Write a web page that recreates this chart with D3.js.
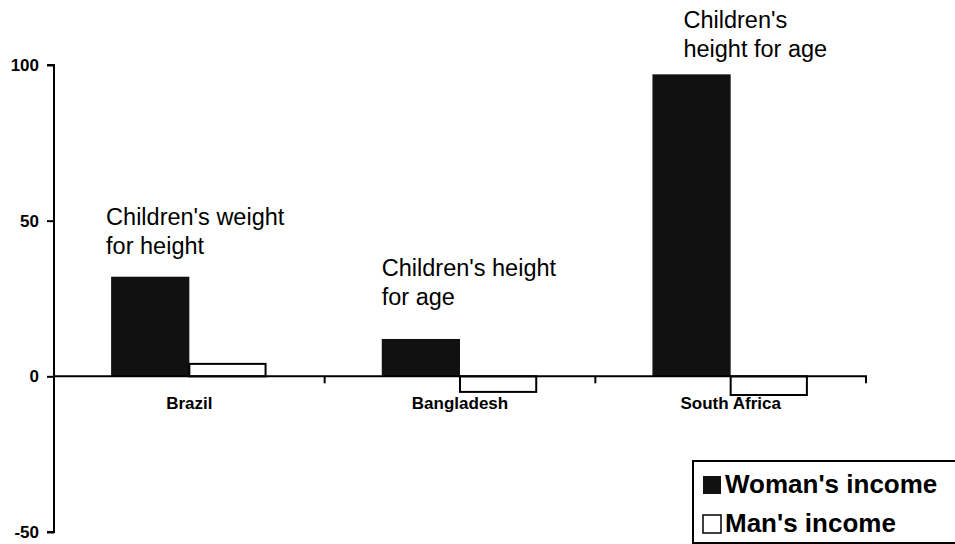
<!DOCTYPE html>
<html>
<head>
<meta charset="utf-8">
<script src="https://cdn.jsdelivr.net/npm/d3@7"></script>
<style>
  body { margin: 0; background: #fff; }
  svg { display: block; font-family: Arial, "Liberation Sans", sans-serif; }
</style>
</head>
<body>
<svg id="chart" width="955" height="544"></svg>
<script>
const countries = ["Brazil", "Bangladesh", "South Africa"];
const womanIncome = [32, 12, 97];
const manIncome = [4, -5, -6];
const seriesNames = ["Woman's income", "Man's income"];
const yTicks = [100, 50, 0, -50];
const notes = [
  ["Children's weight", "for height"],
  ["Children's height", "for age"],
  ["Children's", "height for age"]
];

const svg = d3.select("#chart"),
  plotLeft = 54,
  plotRight = 866,
  plotTop = 65,
  plotBottom = 532,
  barColor = "#111",
  fontFamily = "Arial, 'Liberation Sans', sans-serif";

const x = d3.scaleBand().domain(countries).range([plotLeft, plotRight]).padding(0);
const x1 = d3.scaleBand().domain(["woman", "man"]).range([0, x.bandwidth()])
  .paddingInner(0).paddingOuter(0.73);
const y = d3.scaleLinear().domain([-50, 100]).range([plotBottom, plotTop]);

const data = countries.map(function (c, i) {
  return {country: c, woman: womanIncome[i], man: manIncome[i], note: notes[i]};
});

// woman bars
svg.selectAll("rect.woman")
  .data(data)
  .enter().append("rect")
  .attr("class", "woman")
  .attr("x", d => x(d.country) + x1("woman"))
  .attr("width", x1.bandwidth())
  .attr("y", d => y(Math.max(0, d.woman)))
  .attr("height", d => Math.abs(y(d.woman) - y(0)))
  .attr("fill", barColor);

// man bars
svg.selectAll("rect.man")
  .data(data)
  .enter().append("rect")
  .attr("class", "man")
  .attr("x", d => x(d.country) + x1("man"))
  .attr("width", x1.bandwidth() - 2)
  .attr("y", d => y(Math.max(0, d.man)))
  .attr("height", d => Math.abs(y(d.man) - y(0)))
  .attr("fill", "#fff")
  .attr("stroke", "#000")
  .attr("stroke-width", 2);

// y axis
const yAxis = svg.append("g")
  .attr("transform", "translate(" + plotLeft + ",0)")
  .call(d3.axisLeft(y).tickValues(yTicks).tickSize(7).tickPadding(8)
    .tickFormat(d => String(d)));
yAxis.attr("font-size", 17).attr("font-family", fontFamily);
yAxis.select(".domain").attr("stroke-width", 2).attr("d", "M-7," + y(100) + "H0V" + y(-50) + "H-7");
yAxis.selectAll(".tick line").attr("stroke-width", 2);
yAxis.selectAll(".tick text").attr("font-weight", "bold").attr("fill", "#000");

// x axis at zero
const xAxis = svg.append("g")
  .attr("transform", "translate(0," + y(0) + ")")
  .call(d3.axisBottom(x).tickSize(0).tickPadding(21));
xAxis.attr("font-size", 17).attr("font-family", fontFamily);
xAxis.select(".domain").attr("stroke-width", 2).attr("d", "M" + plotLeft + ",0H" + plotRight + "V7");
xAxis.selectAll(".tick text").attr("font-weight", "bold").attr("fill", "#000");
xAxis.selectAll("line.sep")
  .data(countries.slice(1))
  .enter().append("line")
  .attr("class", "sep")
  .attr("x1", d => x(d)).attr("x2", d => x(d))
  .attr("y1", 0).attr("y2", 7)
  .attr("stroke", "#000").attr("stroke-width", 2);

// annotations
const notePos = [[-5, 225], [0, 276], [31, 28]];
data.forEach(function (d, i) {
  const t = svg.append("text")
    .attr("x", x(d.country) + x1("woman") + notePos[i][0])
    .attr("y", notePos[i][1])
    .attr("font-size", 23.5)
    .attr("fill", "#000");
  d.note.forEach(function (line, j) {
    t.append("tspan")
      .attr("x", x(d.country) + x1("woman") + notePos[i][0])
      .attr("dy", j === 0 ? 0 : 29)
      .text(line);
  });
});

// legend
const legend = svg.append("g").attr("transform", "translate(693,461)");
legend.append("rect")
  .attr("x", 0).attr("y", 0).attr("width", 280).attr("height", 82)
  .attr("fill", "#fff").attr("stroke", "#000").attr("stroke-width", 2);
seriesNames.forEach(function (name, i) {
  const g = legend.append("g").attr("transform", "translate(9," + (14 + i * 39) + ")");
  g.append("rect")
    .attr("x", 1).attr("y", 1).attr("width", 18).attr("height", 18)
    .attr("fill", i === 0 ? barColor : "#fff")
    .attr("stroke", "#000").attr("stroke-width", i === 0 ? 0 : 1.5);
  g.append("text")
    .attr("x", 23).attr("y", 18)
    .attr("font-size", 26).attr("font-weight", "bold")
    .text(name);
});
</script>
</body>
</html>
